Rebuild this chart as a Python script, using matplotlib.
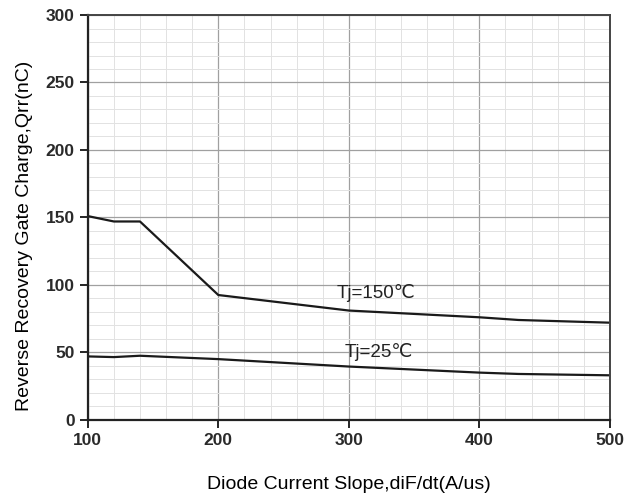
import matplotlib.pyplot as plt
from matplotlib.ticker import MultipleLocator

plt.rcParams['font.family'] = ['Liberation Sans', 'DejaVu Sans']

# data
didt_150 = [100, 120, 140, 200, 300, 400, 430, 500]
qrr_150 = [151, 147, 147, 92.5, 81, 76, 74, 72]
didt_25 = [100, 120, 140, 200, 300, 400, 430, 500]
qrr_25 = [47, 46.5, 47.5, 45, 39.5, 35, 34, 33]
x_ticks = [100, 200, 300, 400, 500]
y_ticks = [0, 50, 100, 150, 200, 250, 300]

fig = plt.figure(figsize=(6.36, 5.01), dpi=100)
ax = fig.add_axes([0.138, 0.162, 0.821, 0.808])

ax.plot(didt_150, qrr_150, color='#1a1a1a', lw=1.6)
ax.plot(didt_25, qrr_25, color='#1a1a1a', lw=1.6)

ax.text(291, 90, 'Tj=150℃', fontsize=13.5, color='#222222')
ax.text(297, 46.5, 'Tj=25℃', fontsize=13.5, color='#222222')

ax.set_xlim(100, 500)
ax.set_ylim(0, 300)
ax.set_xticks(x_ticks)
ax.set_yticks(y_ticks)
ax.xaxis.set_minor_locator(MultipleLocator(20))
ax.yaxis.set_minor_locator(MultipleLocator(10))
ax.grid(which='major', color='#a0a0a0', lw=0.9)
ax.grid(which='minor', color='#e2e2e2', lw=0.7)
ax.set_axisbelow(True)

ax.tick_params(which='major', direction='out', length=6, width=1.2,
               labelsize=12.5, labelcolor='#2a2a2a')
ax.tick_params(which='minor', length=0)
for lab in ax.get_xticklabels() + ax.get_yticklabels():
    lab.set_fontweight('bold')

for side in ['left', 'bottom']:
    ax.spines[side].set_linewidth(1.6)
    ax.spines[side].set_color('#222222')
for side in ['top', 'right']:
    ax.spines[side].set_linewidth(1.4)
    ax.spines[side].set_color('#444444')

ax.set_xlabel('Diode Current Slope,diF/dt(A/us)', fontsize=14, labelpad=20)
ax.set_ylabel('Reverse Recovery Gate Charge,Qrr(nC)', fontsize=14, labelpad=9)
# label sits a little below the axes centre in the reference
ax.yaxis.label.set_y(0.454)

fig.savefig('out.png', dpi=100)
